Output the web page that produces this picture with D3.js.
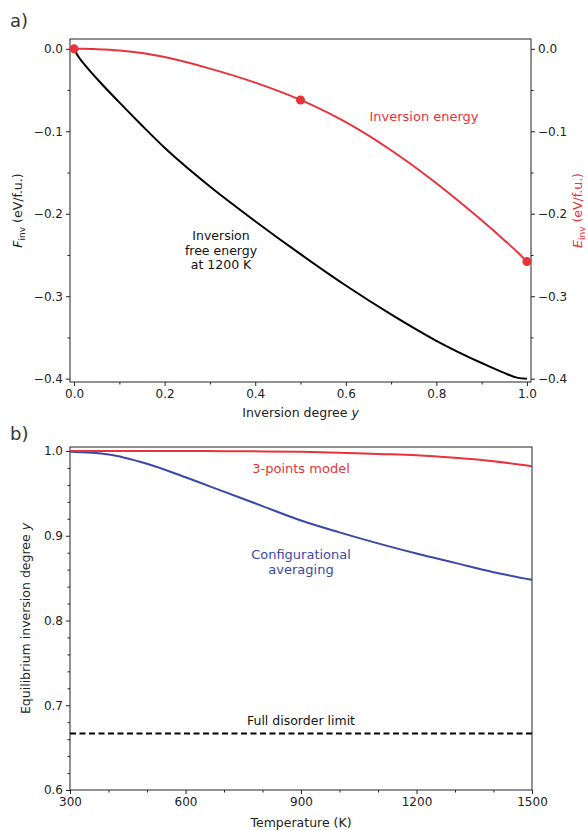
<!DOCTYPE html>
<html><head><meta charset="utf-8">
<script src="https://cdn.jsdelivr.net/npm/d3@7"></script>
<style>body{margin:0;background:#fff}text{font-family:"DejaVu Sans",sans-serif}</style>
</head><body><svg id="c" width="588" height="830"></svg>
<script>
var RED='#e8323c',BLUE='#3a48a8';
// panel a
var yInv=[0,0.01,0.02,0.05,0.1,0.15,0.2,0.3,0.4,0.5,0.6,0.7,0.8,0.9,0.95,0.98,1.0];
var fFree=[0,-0.01,-0.017,-0.036,-0.065,-0.093,-0.12,-0.167,-0.209,-0.249,-0.287,-0.322,-0.354,-0.381,-0.393,-0.399,-0.4];
var eInv=[0,0,0,-0.0005,-0.002,-0.005,-0.01,-0.024,-0.041,-0.062,-0.089,-0.123,-0.163,-0.208,-0.232,-0.247,-0.258];
var eMarkX=[0,0.5,1.0],eMarkY=[0,-0.062,-0.258];
// panel b
var temps=[300,400,500,600,700,800,900,1000,1100,1200,1300,1400,1500];
var threePt=[1.0,1.0,1.0,1.0,0.9998,0.9995,0.999,0.998,0.9965,0.995,0.992,0.988,0.982];
var confAvg=[0.999,0.996,0.985,0.969,0.952,0.935,0.918,0.904,0.891,0.879,0.868,0.857,0.848];
var disorder=2/3;

var svg=d3.select('#c');
function frame(g,x0,y0,w,h){g.append('rect').attr('x',x0).attr('y',y0).attr('width',w).attr('height',h).attr('fill','none').attr('stroke','#222').attr('stroke-width',1)}
function style(ax){ax.selectAll('.domain').remove();ax.selectAll('text').attr('font-size',12).attr('fill','#222');ax.selectAll('line').attr('stroke','#222')}
function minor(g,axisFn,scale,vals,tr){var a=g.append('g').attr('transform',tr).call(axisFn(scale).tickValues(vals).tickSize(2.5).tickFormat(''));a.selectAll('.domain').remove();a.selectAll('line').attr('stroke','#222')}
var fmt=function(d){return d3.format('.1f')(d).replace('-','\u2212')};

// ---- a ----
var L=70,R=531,T=39,B=382;
var xa=d3.scaleLinear().domain([-0.009,1.009]).range([L,R]);
var ya=d3.scaleLinear().domain([-0.404,0.0119]).range([B,T]);
var ga=svg.append('g');
style(ga.append('g').attr('transform','translate(0,'+B+')').call(d3.axisBottom(xa).tickValues([0,0.2,0.4,0.6,0.8,1.0]).tickFormat(fmt).tickSize(4)));
minor(ga,d3.axisBottom,xa,[0.1,0.3,0.5,0.7,0.9],'translate(0,'+B+')');
style(ga.append('g').attr('transform','translate('+L+',0)').call(d3.axisLeft(ya).tickValues([0,-0.1,-0.2,-0.3,-0.4]).tickFormat(fmt).tickSize(4)));
minor(ga,d3.axisLeft,ya,[-0.05,-0.15,-0.25,-0.35],'translate('+L+',0)');
style(ga.append('g').attr('transform','translate('+R+',0)').call(d3.axisRight(ya).tickValues([0,-0.1,-0.2,-0.3,-0.4]).tickFormat(fmt).tickSize(4)));
minor(ga,d3.axisRight,ya,[-0.05,-0.15,-0.25,-0.35],'translate('+R+',0)');
frame(ga,L,T,R-L,B-T);
var la=d3.line().x(function(d){return xa(d[0])}).y(function(d){return ya(d[1])}).curve(d3.curveMonotoneX);
ga.append('path').attr('d',la(d3.zip(yInv,fFree))).attr('fill','none').attr('stroke','#000').attr('stroke-width',2);
ga.append('path').attr('d',la(d3.zip(yInv,eInv))).attr('fill','none').attr('stroke',RED).attr('stroke-width',2);
ga.selectAll('circle').data(d3.zip(eMarkX,eMarkY)).join('circle').attr('cx',function(d){return xa(d[0])}).attr('cy',function(d){return ya(d[1])}).attr('r',4.5).attr('fill',RED);
ga.append('text').attr('x',424).attr('y',121).attr('text-anchor','middle').attr('font-size',13).attr('fill',RED).text('Inversion energy');
['Inversion','free energy','at 1200 K'].forEach(function(t,i){ga.append('text').attr('x',221).attr('y',240+i*14.5).attr('text-anchor','middle').attr('font-size',12.5).attr('fill','#111').text(t)});
ga.append('text').attr('x',(L+R)/2).attr('y',417).attr('text-anchor','middle').attr('font-size',12.5).attr('fill','#222').html('Inversion degree <tspan font-style="italic">y</tspan>');
ga.append('text').attr('transform','translate(22,'+(T+B)/2+') rotate(-90)').attr('text-anchor','middle').attr('font-size',12.5).attr('fill','#222').html('<tspan font-style="italic">F</tspan><tspan font-size="9" dy="3">inv</tspan><tspan dy="-3"> (eV/f.u.)</tspan>');
ga.append('text').attr('transform','translate(582,'+(T+B)/2+') rotate(-90)').attr('text-anchor','middle').attr('font-size',12.5).attr('fill',RED).html('<tspan font-style="italic">E</tspan><tspan font-size="9" dy="3">inv</tspan><tspan dy="-3"> (eV/f.u.)</tspan>');
svg.append('text').attr('x',10).attr('y',27).attr('font-size',18).attr('fill','#333').text('a)');

// ---- b ----
var L2=70,R2=532,T2=447,B2=790;
var xb=d3.scaleLinear().domain([300,1500]).range([L2,R2]);
var yb=d3.scaleLinear().domain([0.6,1.0]).range([B2,451]);
var gb=svg.append('g');
style(gb.append('g').attr('transform','translate(0,'+B2+')').call(d3.axisBottom(xb).tickValues([300,600,900,1200,1500]).tickFormat(d3.format('d')).tickSize(4)));
minor(gb,d3.axisBottom,xb,[400,500,700,800,1000,1100,1300,1400],'translate(0,'+B2+')');
style(gb.append('g').attr('transform','translate('+L2+',0)').call(d3.axisLeft(yb).tickValues([0.6,0.7,0.8,0.9,1.0]).tickFormat(d3.format('.1f')).tickSize(4)));
minor(gb,d3.axisLeft,yb,d3.range(0.62,1.0,0.02).filter(function(v){return Math.abs(v*10-Math.round(v*10))>0.01}),'translate('+L2+',0)');
frame(gb,L2,T2,R2-L2,B2-T2);
var lb=d3.line().x(function(d){return xb(d[0])}).y(function(d){return yb(d[1])}).curve(d3.curveMonotoneX);
gb.append('path').attr('d',lb(d3.zip(temps,confAvg))).attr('fill','none').attr('stroke',BLUE).attr('stroke-width',2);
gb.append('path').attr('d',lb(d3.zip(temps,threePt))).attr('fill','none').attr('stroke',RED).attr('stroke-width',2);
gb.append('line').attr('x1',xb(300)).attr('x2',xb(1500)).attr('y1',yb(disorder)).attr('y2',yb(disorder)).attr('stroke','#000').attr('stroke-width',2).attr('stroke-dasharray','6,3.5');
gb.append('text').attr('x',301).attr('y',473).attr('text-anchor','middle').attr('font-size',13).attr('fill',RED).text('3-points model');
['Configurational','averaging'].forEach(function(t,i){gb.append('text').attr('x',301).attr('y',559+i*14.5).attr('text-anchor','middle').attr('font-size',13).attr('fill',BLUE).text(t)});
gb.append('text').attr('x',301).attr('y',725).attr('text-anchor','middle').attr('font-size',12.5).attr('fill','#111').text('Full disorder limit');
gb.append('text').attr('x',(L2+R2)/2).attr('y',827).attr('text-anchor','middle').attr('font-size',12.5).attr('fill','#222').text('Temperature (K)');
gb.append('text').attr('transform','translate(30,'+(T2+B2)/2+') rotate(-90)').attr('text-anchor','middle').attr('font-size',12.5).attr('fill','#222').html('Equilibrium inversion degree <tspan font-style="italic">y</tspan>');
svg.append('text').attr('x',10).attr('y',440).attr('font-size',18).attr('fill','#333').text('b)');
</script></body></html>
